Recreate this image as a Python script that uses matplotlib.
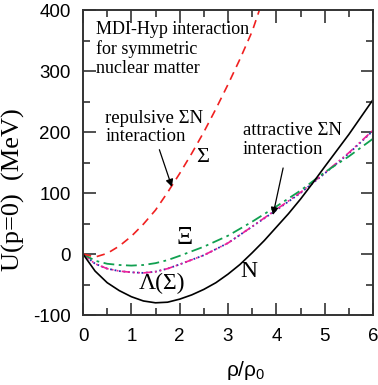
import numpy as np
import matplotlib
matplotlib.use('Agg')
import matplotlib.pyplot as plt
from matplotlib.ticker import MultipleLocator

plt.rcParams.update({
    'font.family': 'Liberation Sans',
    'mathtext.fontset': 'custom',
    'mathtext.rm': 'Liberation Sans',
    'axes.unicode_minus': False,
    'xtick.direction': 'in', 'ytick.direction': 'in',
    'xtick.top': True, 'ytick.right': True,
    'axes.linewidth': 1.4,
})
SERIF = ['Liberation Serif', 'DejaVu Serif']

# nucleon (N), solid black
rho_n = [0, 0.25, 0.5, 0.75, 1, 1.25, 1.5, 1.75, 2, 2.25, 2.5, 2.75, 3,
         3.25, 3.5, 3.75, 4, 4.25, 4.5, 4.75, 5, 5.5, 6]
u_n = [0, -28, -47, -60, -70, -77, -80, -79, -74, -67, -58, -47, -33,
       -17, 2, 22, 44, 66, 90, 116, 143, 196, 253]

# Sigma with repulsive Sigma-N interaction, red dashed
rho_sig_rep = [0, 0.25, 0.5, 0.75, 1, 1.25, 1.5, 1.75, 2, 2.25, 2.5, 2.75,
               3, 3.25, 3.5, 3.65]
u_sig_rep = [0, -5, 1, 13, 29, 49, 72, 101, 132, 165, 200, 238,
             278, 320, 365, 400]

# Xi, green dash-dot
rho_xi = [0, 0.25, 0.5, 0.75, 1, 1.25, 1.5, 1.75, 2, 2.5, 3, 3.5, 4, 4.5,
          5, 5.5, 6]
u_xi = [0, -11, -16, -18, -19, -18, -15, -10, -3, 12, 30, 53, 78, 104,
        134, 160, 189]

# Lambda, magenta dash-dot-dot
rho_lam = [0, 0.25, 0.5, 0.75, 1, 1.25, 1.5, 1.75, 2, 2.5, 3, 3.5, 4, 4.5,
           5, 5.5, 6]
u_lam = [0, -16, -24, -28, -30, -31, -29, -24, -17, -2, 18, 45, 73, 101,
         133, 166, 203]

# Sigma with attractive Sigma-N interaction, blue dotted (under Lambda)
rho_sig_att = rho_lam
u_sig_att = [0, -16, -24, -28, -30, -31, -29, -24, -17, -2, 18, 45, 72, 100,
             132, 165, 202]

fig = plt.figure(figsize=(3.78, 3.85), dpi=100)
ax = fig.add_axes([0.2196, 0.1818, 0.7672, 0.7922])

ax.plot(rho_sig_att, u_sig_att, color='#2830b0', lw=1.3, ls=(0, (1, 1.5)))
ax.plot(rho_lam, u_lam, color='#f0209a', lw=1.2,
        ls=(0, (5, 2, 1, 2, 1, 2)))
ax.plot(rho_xi, u_xi, color='#10a050', lw=1.3, ls=(0, (6, 2.5, 1.5, 2.5)))
ax.plot(rho_sig_rep, u_sig_rep, color='#f02020', lw=1.2, ls=(0, (5, 3.5)))
ax.plot(rho_n, u_n, color='black', lw=1.2)

ax.set_xlim(0, 6)
ax.set_ylim(-100, 400)
ax.xaxis.set_major_locator(MultipleLocator(1))
ax.xaxis.set_minor_locator(MultipleLocator(0.5))
ax.yaxis.set_major_locator(MultipleLocator(100))
ax.yaxis.set_minor_locator(MultipleLocator(50))
ax.tick_params(which='major', length=9, width=1.2, labelsize=13.5, pad=9,
               color='#333333')
ax.tick_params(which='minor', length=5, width=1.2, color='#333333')
for sp in ax.spines.values():
    sp.set_color('#333333')

ax.set_xlabel(r'$\mathregular{\rho/\rho_0}$', fontsize=15)
ax.xaxis.set_label_coords(0.56, -0.145)
ax.set_ylabel('U(p=0)  (MeV)', fontfamily=SERIF, fontsize=19)
ax.yaxis.set_label_coords(-0.2, 0.41)

ax.text(0.27, 382, 'MDI-Hyp interaction\nfor symmetric\nnuclear matter',
        family=SERIF, fontsize=13, ha='left', va='top', linespacing=1.15)
ax.text(0.46, 236, 'repulsive ΣN\ninteraction', family=SERIF,
        fontsize=13.5, ha='left', va='top', linespacing=1.1)
ax.text(3.31, 216, 'attractive ΣN\ninteraction', family=SERIF,
        fontsize=13.5, ha='left', va='top', linespacing=1.1)

ax.annotate('', xy=(1.84, 110), xytext=(1.58, 171),
            arrowprops=dict(arrowstyle='-|>', color='black', lw=0.9,
                            mutation_scale=11, shrinkA=0, shrinkB=0))
ax.annotate('', xy=(3.93, 64), xytext=(4.14, 141),
            arrowprops=dict(arrowstyle='-|>', color='black', lw=0.9,
                            mutation_scale=11, shrinkA=0, shrinkB=0))

ax.text(2.48, 159, 'Σ', family=SERIF, fontsize=16, ha='center', va='center')
ax.text(2.11, 26, 'Ξ', family=SERIF, fontsize=18, ha='center', va='center')
ax.text(1.63, -49, 'Λ(Σ)', family=SERIF, fontsize=17, ha='center',
        va='center')
ax.text(3.44, -28, 'N', family=SERIF, fontsize=17, ha='center', va='center')

fig.savefig('out.png', dpi=100)
